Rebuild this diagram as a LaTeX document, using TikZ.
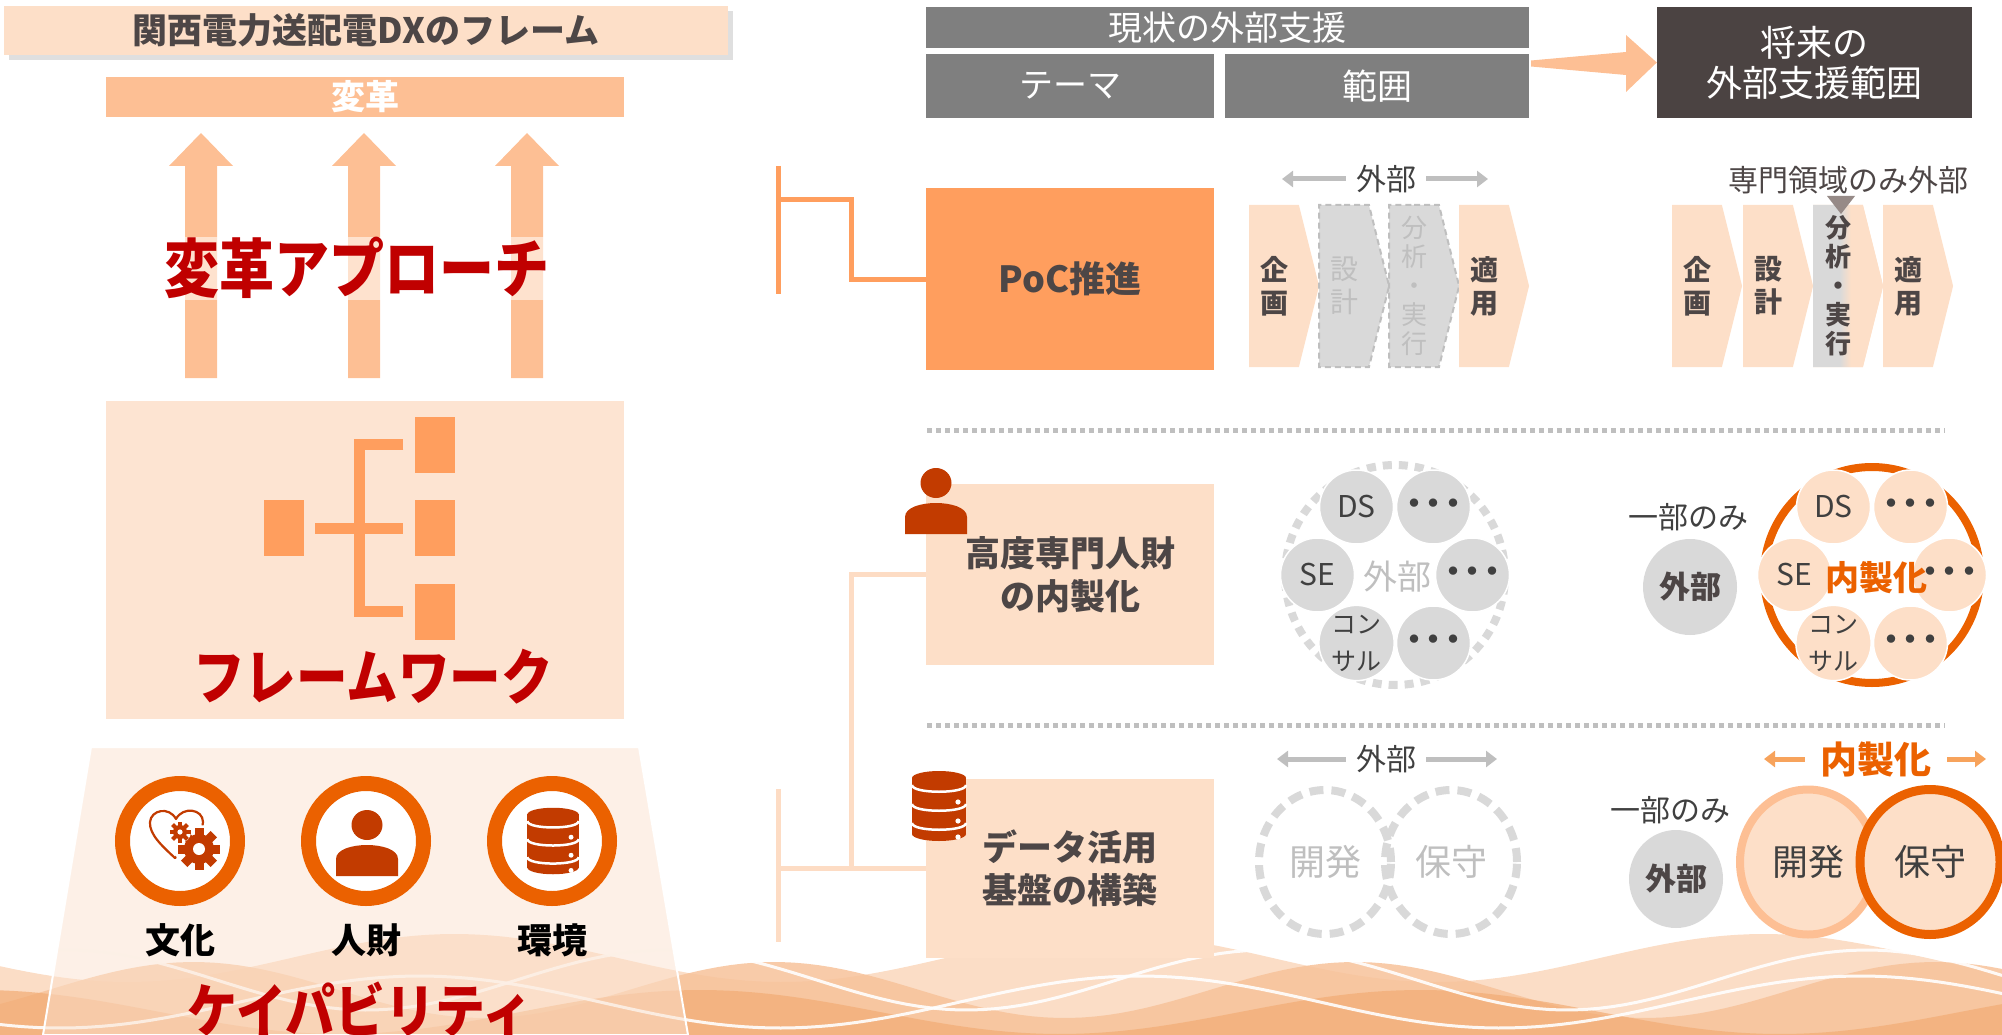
\documentclass[tikz,border=0pt]{standalone}
\usepackage{fontspec}
\setmainfont{Noto Sans CJK JP}
\newfontfamily\narrowjp{Noto Sans CJK JP}[FakeStretch=0.86]
\usepackage{tikz}
\usetikzlibrary{arrows.meta, positioning, shadows, shapes.symbols, shapes.geometric}

\definecolor{peach}{HTML}{FDBF94}
\definecolor{peachbox}{HTML}{FDDFC8}
\definecolor{peachpale}{HTML}{FDE4D2}
\definecolor{orangemid}{HTML}{FF9E5E}
\definecolor{orangedeep}{HTML}{EB6100}
\definecolor{orangesoft}{HTML}{F7A35C}
\definecolor{iconred}{HTML}{C23B00}
\definecolor{titlered}{HTML}{C00000}
\definecolor{darktext}{HTML}{4D4646}
\definecolor{inktext}{HTML}{404040}
\definecolor{headgray}{HTML}{7F7F7F}
\definecolor{futurebrown}{HTML}{4B4342}
\definecolor{palegray}{HTML}{D9D9D9}
\definecolor{midgray}{HTML}{BFBFBF}
\definecolor{markgray}{HTML}{968A87}
\definecolor{linkpale}{HTML}{FDDCC4}
\definecolor{capfill}{HTML}{FBE2CF}
\definecolor{wavea}{HTML}{FBDDC6}
\definecolor{waveb}{HTML}{F7C29A}
\definecolor{wavec}{HTML}{F2AC74}

\newcommand\jsize[2]{\fontsize{#1}{#2}\selectfont}
\newcommand\tridots{\textbf{・\kern-.35em・\kern-.35em・}}
% x, y, body radius, tooth length, hole radius
\newcommand\cogwheel[5]{%
  \begin{scope}[shift={(#1,#2)}]
    \foreach \a in {0,45,90,135}
      \fill[iconred, rotate=\a] (-0.3*#3,-#3-#4) rectangle (0.3*#3,#3+#4);
    \fill[iconred] (0,0) circle [radius=#3pt];
    \fill[white] (0,0) circle [radius=#5pt];
  \end{scope}}

\pgfdeclarehorizontalshading{grayfade}{100bp}{color(0bp)=(palegray); color(44bp)=(palegray); color(52bp)=(peachbox); color(100bp)=(peachbox)}

\tikzset{
  person/.pic={
    \fill[iconred] (0,0) ellipse [x radius=15.5pt, y radius=15pt];
    \fill[iconred] (-31,51) -- (-31,34) .. controls (-31,24) and (-14,20) .. (0,20)
      .. controls (14,20) and (31,24) .. (31,34) -- (31,51) -- cycle;
  },
  datastack/.pic={
    \fill[iconred] (-27,-28) rectangle (27,28);
    \fill[iconred] (0,-28) ellipse [x radius=27pt, y radius=7pt];
    \fill[iconred] (0,28) ellipse [x radius=27pt, y radius=7pt];
    \foreach \s in {-21,-2,17}
      \draw[white, line width=2.5pt] (-27,\s) .. controls (-27,\s+9) and (27,\s+9) .. (27,\s);
    \foreach \s in {-4,15,31}
      \fill[white] (19,\s) circle [radius=2.6pt];
  }
}

\begin{document}
\begin{tikzpicture}[x=1pt, y=-1pt,
    titlebox/.style={rectangle, fill=peachbox, minimum width=724, minimum height=49, inner sep=0pt, font=\bfseries\jsize{35}{40}, text=darktext, drop shadow={shadow xshift=5pt, shadow yshift=-5pt, opacity=.25}},
    bandbox/.style={rectangle, fill=peach, minimum width=518, minimum height=40, inner sep=0pt, font=\bfseries\jsize{34}{38}, text=white},
    bigword/.style={inner sep=0pt, font=\narrowjp\bfseries\jsize{64}{70}, text=titlered},
    leaf/.style={rectangle, fill=orangemid, minimum width=40, minimum height=56, inner sep=0pt},
    treeline/.style={orangemid, line width=11pt},
    ring/.style={circle, draw=orangedeep, line width=15pt, fill=white, minimum size=115, inner sep=0pt},
    capword/.style={font=\bfseries\jsize{35}{40}, text=black},
    headbar/.style={rectangle, fill=headgray, inner sep=0pt, font=\jsize{34}{40}, text=white, align=center},
    themebox/.style={rectangle, fill=peachbox, minimum width=288, minimum height=180, inner sep=0pt, align=center, font=\bfseries\jsize{35}{43}, text=darktext},
    stage/.style={signal, signal to=east, signal pointer angle=152, fill=peachbox, minimum width=70, minimum height=162, inner sep=0pt, align=center, font=\bfseries\jsize{28}{33}, text=darktext},
    outsourced/.style={stage, fill=palegray, draw=midgray, dash pattern=on 6pt off 4pt, line width=2pt, font=\jsize{28}{33}, text=midgray},
    member/.style={circle, fill=palegray, draw=white, line width=1.5pt, minimum size=74, inner sep=0pt, align=center, font=\jsize{30}{36}, text=inktext},
    memberin/.style={member, fill=peachbox},
    note/.style={inner sep=1pt, font=\jsize{30}{34}, text=inktext},
    extbubble/.style={ellipse, fill=palegray, minimum width=94, minimum height=96, inner sep=0pt, font=\bfseries\jsize{31}{34}, text=darktext},
    dashring/.style={ellipse, draw=palegray, line width=8pt, dash pattern=on 14pt off 8pt, minimum width=132, minimum height=144, inner sep=0pt, font=\jsize{36}{40}, text=midgray},
    keepring/.style={ellipse, fill=peachbox, minimum width=136, minimum height=145, inner sep=0pt, font=\jsize{36}{40}, text=inktext},
    deeplink/.style={orangemid, line width=5pt},
    palelink/.style={linkpale, line width=5pt},
    divider/.style={midgray, line width=5pt, dash pattern=on 5pt off 4pt},
    spanarrow/.style={midgray, line width=5pt, -{Triangle[length=11pt, width=16pt]}},
    inarrow/.style={orangesoft, line width=5pt, -{Triangle[length=11pt, width=16pt]}}
  ]
  \useasboundingbox (0,0) rectangle (2002,1035);

  % waves along the bottom edge
  \fill[wavea] plot[domain=0:2002, samples=160] (\x,{958+24*sin(0.55*\x+20)}) -- (2002,1035) -- (0,1035) -- cycle;
  \fill[waveb, opacity=.85] plot[domain=0:2002, samples=160] (\x,{990+28*sin(0.62*\x+150)}) -- (2002,1035) -- (0,1035) -- cycle;
  \fill[wavec, opacity=.7] plot[domain=0:2002, samples=160] (\x,{1012+22*sin(0.5*\x+280)}) -- (2002,1035) -- (0,1035) -- cycle;
  \draw[white, line width=3pt, opacity=.9] plot[domain=0:2002, samples=160] (\x,{980+30*sin(0.6*\x+230)});
  \draw[white, line width=3pt, opacity=.9] plot[domain=0:2002, samples=160] (\x,{1002+26*sin(0.5*\x+60)});

  % left column: title and transformation
  \node[titlebox] (title) at (366,30.5) {関西電力送配電DXのフレーム};
  \node[bandbox] (reform) at (365,97) {変革};
  \foreach \cx in {201,364,527}
    \fill[peach] (\cx-16,378) -- (\cx-16,166) -- (\cx-32,166) -- (\cx,133) -- (\cx+32,166) -- (\cx+16,166) -- (\cx+16,378) -- cycle;
  \node[bigword, fill=white, fill opacity=.55, text opacity=1, minimum width=400, minimum height=63] (approach) at (357,268) {変革アプローチ};

  % framework block with tree icon
  \node[rectangle, fill=peachpale, minimum width=518, minimum height=318] (frame) at (365,560) {};
  \node[leaf] (root) at (284,528) {};
  \node[leaf] (leafa) at (434.5,444.5) {};
  \node[leaf] (leafb) at (434.5,528) {};
  \node[leaf] (leafc) at (434.5,611.5) {};
  \coordinate (spine) at (359.5,528);
  \draw[treeline, shorten <=11pt] (leafa) -| (spine);
  \draw[treeline, shorten <=11pt] (leafc) -| (spine);
  \draw[treeline, shorten <=11pt, shorten >=11pt] (root) -- (leafb);
  \node[bigword, font=\narrowjp\bfseries\jsize{60}{66}] (framework) at (373,677) {フレームワーク};

  % capability base
  \fill[capfill, fill opacity=.5, draw=white, line width=2pt] (91,747) -- (639,747) -- (688,1035) -- (43,1035) -- cycle;
  \node[ring] (culture) at (180,841) {};
  \node[ring] (talent) at (366,841) {};
  \node[ring] (environ) at (552,841) {};
  \node[capword] (cultureLbl) at (180,940) {文化};
  \node[capword] (talentLbl) at (366,940) {人財};
  \node[capword] (environLbl) at (552,940) {環境};
  % heart with cogs
  \draw[iconred, line width=2.2pt, line join=round] (175,858) .. controls (162,846) and (149,834) .. (150,822)
    .. controls (151,810) and (169,806) .. (176,819) .. controls (183,806) and (203,809) .. (203,822)
    .. controls (203,834) and (189,846) .. (175,858) -- cycle;
  \fill[white] (199,849) circle [radius=24pt];
  \cogwheel{199}{849}{15}{6}{6}
  \fill[white] (180,832) circle [radius=11pt];
  \cogwheel{180}{832}{7}{3.5}{2.6}
  \pic at (367,825) {person};
  \pic[scale=.95] at (553,841) {datastack};
  \node[bigword, font=\narrowjp\bfseries\jsize{58}{64}] (capability) at (360,1010) {ケイパビリティ};

  % header of the right part
  \node[headbar, minimum width=603, minimum height=41] (current) at (1227.5,27.5) {現状の外部支援};
  \node[headbar, minimum width=288, minimum height=64] (theme) at (1070,86) {テーマ};
  \node[headbar, minimum width=304, minimum height=64, font=\jsize{35}{40}] (range) at (1377,86) {範囲};
  \node[headbar, fill=futurebrown, minimum width=315, minimum height=111, font=\jsize{36}{40}] (future) at (1814.5,62.5) {将来の\\外部支援範囲};
  \coordinate (hdrtail) at (1531,63.5);
  \fill[peach] ([yshift=3pt]hdrtail) -- (1626,52) -- (1626,35) -- (future.west) -- (1626,92) -- (1626,75) -- ([yshift=-3pt]hdrtail) -- cycle;

  % theme boxes
  \node[themebox, fill=orangemid, minimum height=182, font=\bfseries\jsize{36}{40}] (poc) at (1070,279) {PoC推進};
  \node[themebox, minimum height=181] (expert) at (1070,574.5) {高度専門人財\\の内製化};
  \node[themebox, minimum height=179] (platform) at (1070,868.5) {データ活用\\基盤の構築};
  \pic at (936,483) {person};
  \pic at (939,806) {datastack};

  % connectors on the left of the theme boxes
  \coordinate (topA) at (778,166);
  \coordinate (botA) at (778,294);
  \coordinate (forkA) at (778,200);
  \draw[deeplink] (topA) -- (botA);
  \draw[deeplink] (forkA) -| ([xshift=-74pt]poc.west) -- (poc.west);
  \coordinate (topC) at (778,789);
  \coordinate (botC) at (778,942);
  \coordinate (forkC) at (778,868.5);
  \draw[palelink] (expert.west) -- ++(-74,0) |- (platform.west);
  \draw[palelink] (topC) -- (botC);
  \draw[palelink] (forkC) -- ([xshift=-74pt]platform.west);

  % dotted dividers
  \coordinate (divA1) at (927,430);
  \coordinate (divA2) at (1945,430);
  \coordinate (divB1) at (927,725);
  \coordinate (divB2) at (1945,725);
  \draw[divider] (divA1) -- (divA2);
  \draw[divider] (divB1) -- (divB2);

  % PoC: current stages
  \node[note] (extA) at (1386,179) {外部};
  \coordinate (extAl) at (1282,179);
  \coordinate (extAr) at (1488,179);
  \draw[spanarrow, shorten <=9pt] (extA) -- (extAl);
  \draw[spanarrow, shorten <=9pt] (extA) -- (extAr);
  \node[stage] (plan) at (1274,286) {企\\画};
  \node[outsourced] (design) at (1344,286) {設\\計};
  \node[outsourced, font=\jsize{26}{29}] (analysis) at (1414,286) {分\\析\\・\\実\\行};
  \node[stage] (apply) at (1484,286) {適\\用};

  % PoC: future stages
  \node[note, text=darktext] (onlyspec) at (1848,180) {専門領域のみ外部};
  \node[stage] (planF) at (1697,286) {企\\画};
  \node[stage] (designF) at (1768,286) {設\\計};
  \node[stage, shade, shading=grayfade, font=\bfseries\jsize{26}{29}] (analysisF) at (1838,286) {分\\析\\・\\実\\行};
  \node[stage] (applyF) at (1908,286) {適\\用};
  \fill[markgray] (1827,196) -- (1855,196) -- (1841,214) -- cycle;

  % experts: current pool
  \node[circle, draw=palegray, line width=8pt, dash pattern=on 9pt off 7pt, minimum size=220] (poolA) at (1395,575) {};
  \node[member] (dsA) at (1356.5,507) {DS};
  \node[member] (etcA1) at (1433.5,507) {\tridots};
  \node[member] (seA) at (1317.5,575) {SE};
  \node[member] (etcA2) at (1472.5,575) {\tridots};
  \node[member, font=\jsize{25}{37}] (conA) at (1356.5,643) {コン\\サル};
  \node[member] (etcA3) at (1433.5,643) {\tridots};
  \node[font=\jsize{34}{38}, text=midgray] (poolLblA) at (1397,577) {外部};

  % experts: future pool
  \node[note] (partA) at (1688,517) {一部のみ};
  \node[extbubble] (extB) at (1690,587) {外部};
  \node[circle, draw=orangedeep, line width=8pt, minimum size=216] (poolB) at (1872,575) {};
  \node[memberin] (dsB) at (1833.5,507) {DS};
  \node[memberin] (etcB1) at (1910.5,507) {\tridots};
  \node[memberin] (seB) at (1794.5,575) {SE};
  \node[memberin] (etcB2) at (1949.5,575) {\tridots};
  \node[memberin, font=\jsize{25}{37}] (conB) at (1833.5,643) {コン\\サル};
  \node[memberin] (etcB3) at (1910.5,643) {\tridots};
  \node[font=\bfseries\jsize{34}{38}, text=orangedeep] (poolLblB) at (1876,578) {内製化};

  % platform: current
  \node[note] (extC) at (1386,759) {外部};
  \coordinate (extCl) at (1277,759);
  \coordinate (extCr) at (1497,759);
  \draw[spanarrow, shorten <=9pt] (extC) -- (extCl);
  \draw[spanarrow, shorten <=9pt] (extC) -- (extCr);
  \node[dashring] (devA) at (1325,862) {開発};
  \node[dashring] (keepA) at (1451,862) {保守};

  % platform: future
  \node[font=\bfseries\jsize{37}{40}, text=orangedeep] (inhouse) at (1876,759) {内製化};
  \coordinate (inL) at (1764,759);
  \coordinate (inR) at (1986,759);
  \draw[inarrow, shorten <=12pt] (inhouse) -- (inL);
  \draw[inarrow, shorten <=12pt] (inhouse) -- (inR);
  \node[note] (partB) at (1670,810) {一部のみ};
  \node[extbubble, minimum height=98] (extD) at (1676,879) {外部};
  \node[keepring, draw=peach, line width=8pt] (devB) at (1808,862) {開発};
  \node[keepring, draw=orangedeep, line width=9pt, minimum width=140] (keepB) at (1930,862) {保守};
\end{tikzpicture}
\end{document}
